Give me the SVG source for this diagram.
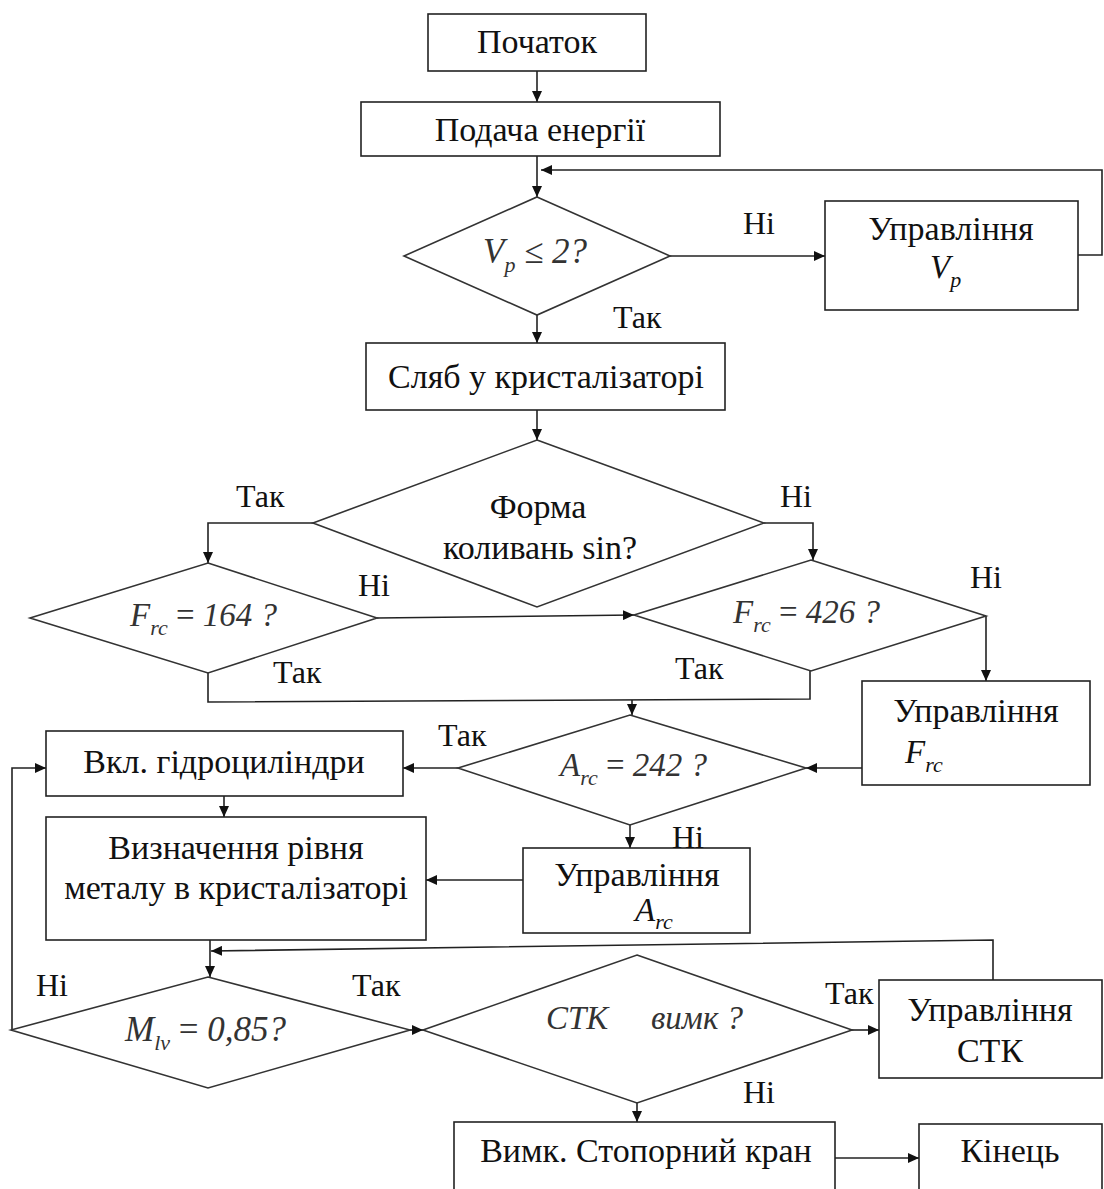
<svg xmlns="http://www.w3.org/2000/svg" width="1104" height="1189" viewBox="0 0 1104 1189">
<defs>
<marker id="ah" markerUnits="userSpaceOnUse" markerWidth="12" markerHeight="10" refX="11" refY="5" orient="auto">
<path d="M0,0 L11,5 L0,10 z" fill="#111"/>
</marker>
<style>
.box{fill:#fff;stroke:#222;stroke-width:1.6}
.dia{fill:#fff;stroke:#333;stroke-width:1.6}
.ln{fill:none;stroke:#222;stroke-width:1.6}
.ar{fill:none;stroke:#222;stroke-width:1.6;marker-end:url(#ah)}
.t{font-family:"Liberation Serif","Times New Roman",serif;font-size:34px;fill:#111}
.l{font-family:"Liberation Serif","Times New Roman",serif;font-size:32px;fill:#111}
.c{text-anchor:middle}
.m{font-family:"Liberation Serif","Times New Roman",serif;font-size:33px;font-style:italic;fill:#333}
.mb{font-family:"Liberation Serif","Times New Roman",serif;font-size:33px;font-style:italic;fill:#111}
.s{font-size:22px}
.up{font-style:normal}
</style>
</defs>
<rect width="1104" height="1189" fill="#fff"/>
<g id="connectors">
<path class="ar" d="M537,71 V102"/>
<path class="ar" d="M537,156 V197"/>
<path class="ar" d="M670,256 H825"/>
<path class="ar" d="M1078,255 H1102 V170 H541"/>
<path class="ar" d="M537,315 V343"/>
<path class="ar" d="M537,410 V440"/>
<path class="ar" d="M313,523 H208 V563"/>
<path class="ar" d="M764,523 H813 V560"/>
<path class="ar" d="M377,618 L634,615"/>
<path class="ar" d="M986,616 V681"/>
<path class="ln" d="M208,673 V702 L810,699 V670"/>
<path class="ar" d="M632,700 V715"/>
<path class="ar" d="M862,768 H806"/>
<path class="ar" d="M458,768 H403"/>
<path class="ar" d="M224,796 V817"/>
<path class="ar" d="M630,825 V848"/>
<path class="ar" d="M523,880 H426"/>
<path class="ar" d="M210,940 V977"/>
<path class="ar" d="M993,980 V940 L211,951"/>
<path class="ar" d="M11,1030 H12 V768 H46"/>
<path class="ar" d="M410,1030 H423"/>
<path class="ar" d="M852,1030 H879"/>
<path class="ar" d="M637,1103 V1122"/>
<path class="ar" d="M835,1158 H919"/>
</g>
<g id="start">
<rect class="box" x="428" y="14" width="218" height="57"/>
<text class="t c" x="537" y="53">Початок</text>
</g>
<g id="power">
<rect class="box" x="361" y="102" width="359" height="54"/>
<text class="t c" x="540" y="141">Подача енергії</text>
</g>
<g id="check-vp">
<polygon class="dia" points="537,197 670,256 537,315 404,256"/>
<text class="m" x="483" y="263" style="font-size:35px">V<tspan class="s" dy="9">p</tspan><tspan dy="-9"> ≤ 2?</tspan></text>
</g>
<g id="ctrl-vp">
<rect class="box" x="825" y="201" width="253" height="109"/>
<text class="t c" x="951" y="240">Управління</text>
<text class="mb" x="930" y="278">V<tspan class="s" dy="9">p</tspan></text>
</g>
<g id="slab">
<rect class="box" x="366" y="343" width="359" height="67"/>
<text class="t c" x="546" y="388">Сляб у кристалізаторі</text>
</g>
<g id="form">
<polygon class="dia" points="537,440 764,523 537,607 313,523"/>
<text class="t c" x="538" y="518">Форма</text>
<text class="t c" x="540" y="559">коливань sin?</text>
</g>
<g id="f164">
<polygon class="dia" points="208,563 377,618 208,673 30,618"/>
<text class="m" x="130" y="626">F<tspan class="s" dy="9">rc</tspan><tspan dy="-9" class="up"> = </tspan><tspan>164 ?</tspan></text>
</g>
<g id="f426">
<polygon class="dia" points="811,560 986,616 811,671 634,615"/>
<text class="m" x="733" y="623">F<tspan class="s" dy="9">rc</tspan><tspan dy="-9" class="up"> = </tspan><tspan>426 ?</tspan></text>
</g>
<g id="ctrl-f">
<rect class="box" x="862" y="681" width="228" height="104"/>
<text class="t c" x="976" y="722">Управління</text>
<text class="mb" x="905" y="763">F<tspan class="s" dy="9">rc</tspan></text>
</g>
<g id="a242">
<polygon class="dia" points="630,715 806,768 630,825 458,768"/>
<text class="m" x="560" y="776">A<tspan class="s" dy="9">rc</tspan><tspan dy="-9" class="up"> = </tspan><tspan>242 ?</tspan></text>
</g>
<g id="hydro">
<rect class="box" x="46" y="731" width="357" height="65"/>
<text class="t c" x="224" y="773">Вкл. гідроциліндри</text>
</g>
<g id="level">
<rect class="box" x="46" y="817" width="380" height="123"/>
<text class="t c" x="236" y="859">Визначення рівня</text>
<text class="t c" x="236" y="899">металу в кристалізаторі</text>
</g>
<g id="ctrl-a">
<rect class="box" x="523" y="848" width="227" height="85"/>
<text class="t c" x="637" y="886">Управління</text>
<text class="mb" x="635" y="921">A<tspan class="s" dy="8">rc</tspan></text>
</g>
<g id="mlv">
<polygon class="dia" points="208,977 410,1030 208,1088 11,1030"/>
<text class="m" x="125" y="1041" style="font-size:35px">M<tspan class="s" dy="9">lv</tspan><tspan dy="-9" class="up"> = </tspan><tspan>0,85?</tspan></text>
</g>
<g id="stk">
<polygon class="dia" points="637,955 852,1030 637,1103 423,1030"/>
<text class="m" x="546" y="1029">СТК</text>
<text class="m" x="651" y="1029">вимк ?</text>
</g>
<g id="ctrl-stk">
<rect class="box" x="879" y="980" width="223" height="98"/>
<text class="t c" x="990" y="1021">Управління</text>
<text class="t c" x="990" y="1062">СТК</text>
</g>
<g id="stopper">
<rect class="box" x="454" y="1122" width="381" height="80"/>
<text class="t c" x="646" y="1162">Вимк. Стопорний кран</text>
</g>
<g id="end">
<rect class="box" x="919" y="1124" width="183" height="80"/>
<text class="t c" x="1010" y="1162">Кінець</text>
</g>
<g id="labels">
<text class="l" x="743" y="234">Ні</text>
<text class="l" x="613" y="328">Так</text>
<text class="l" x="236" y="507">Так</text>
<text class="l" x="780" y="507">Ні</text>
<text class="l" x="358" y="596">Ні</text>
<text class="l" x="970" y="588">Ні</text>
<text class="l" x="273" y="683">Так</text>
<text class="l" x="675" y="679">Так</text>
<text class="l" x="438" y="746">Так</text>
<text class="l" x="672" y="848">Ні</text>
<text class="l" x="36" y="996">Ні</text>
<text class="l" x="352" y="996">Так</text>
<text class="l" x="825" y="1004">Так</text>
<text class="l" x="743" y="1103">Ні</text>
</g>
</svg>
